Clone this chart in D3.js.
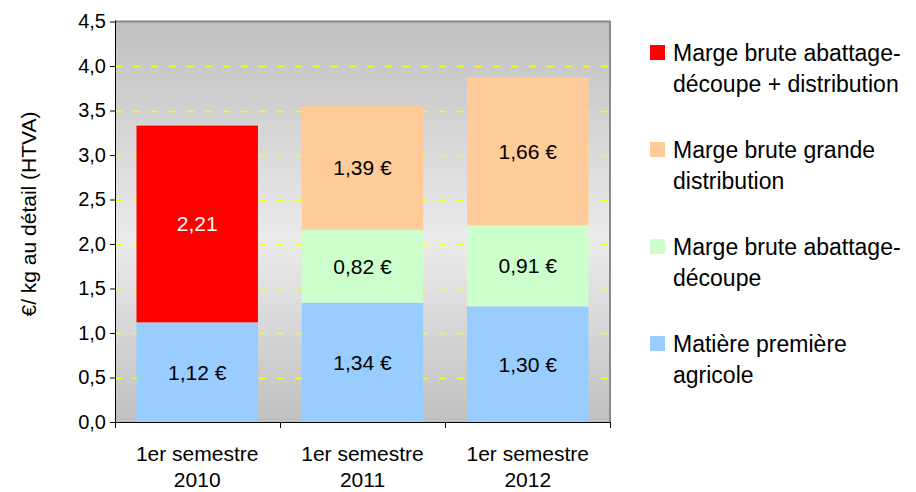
<!DOCTYPE html>
<html><head><meta charset="utf-8">
<script src="https://cdn.jsdelivr.net/npm/d3@7"></script>
<style>
body{margin:0;background:#fff;}
text{font-family:"Liberation Sans",Arial,sans-serif;}
</style></head>
<body><svg id="c" width="916" height="492"></svg>
<script>
const categories = ["1er semestre|2010", "1er semestre|2011", "1er semestre|2012"];
const seriesNames = ["Matière première|agricole", "Marge brute abattage-|découpe", "Marge brute grande|distribution", "Marge brute abattage-|découpe + distribution"];
const seriesColors = ["#99ccff", "#ccffcc", "#ffcc99", "#ff0000"];
const matiere = [1.12, 1.34, 1.30];
const abattage = [0, 0.82, 0.91];
const grandeDist = [0, 1.39, 1.66];
const abattageDist = [2.21, 0, 0];
const labelMatiere = ["1,12 €", "1,34 €", "1,30 €"];
const labelAbattage = ["", "0,82 €", "0,91 €"];
const labelGrande = ["", "1,39 €", "1,66 €"];
const labelAbattageDist = ["2,21", "", ""];
const yTicks = [0, 0.5, 1, 1.5, 2, 2.5, 3, 3.5, 4, 4.5];
const yTitle = "€/ kg au détail (HTVA)";

const svg = d3.select("#c");
const L = 115, R = 610, T = 21.5, B = 422;
const x = d3.scaleBand().domain(categories).range([L, R]).paddingInner(0.265).paddingOuter(0.13);
const y = d3.scaleLinear().domain([0, 4.5]).range([B, T]);

const defs = svg.append("defs");
const g = defs.append("linearGradient").attr("id","bg").attr("x1",0).attr("y1",0).attr("x2",0).attr("y2",1);
g.append("stop").attr("offset","0%").attr("stop-color","#c0c0c0");
g.append("stop").attr("offset","55%").attr("stop-color","#ebebeb");
g.append("stop").attr("offset","100%").attr("stop-color","#c0c0c0");

svg.append("rect").attr("x",L).attr("y",T).attr("width",R-L).attr("height",B-T).attr("fill","url(#bg)");
// grid
svg.append("g").selectAll("line").data(yTicks.filter(d=>d>0 && d<4.5)).join("line")
  .attr("x1",L).attr("x2",R).attr("y1",d=>Math.round(y(d))+0.5).attr("y2",d=>Math.round(y(d))+0.5)
  .attr("stroke","#ffff00").attr("stroke-width",1.5).attr("stroke-dasharray","7,11");
// border top/right
svg.append("path").attr("d",`M${L},${T}H${R}V${B}`).attr("fill","none").attr("stroke","#8a8a8a").attr("stroke-width",2);

const stackData = categories.map((c,i)=>({cat:c, v0:matiere[i], v1:abattage[i], v2:grandeDist[i], v3:abattageDist[i]}));
const stack = d3.stack().keys(["v0","v1","v2","v3"])(stackData);
const labels = [labelMatiere, labelAbattage, labelGrande, labelAbattageDist];
const labelColors = ["#000","#000","#000","#fff"];
stack.forEach((s,k)=>{
  const grp = svg.append("g");
  grp.selectAll("rect").data(s.filter(d=>d[1]-d[0]>0)).join("rect")
    .attr("x",d=>x(d.data.cat)).attr("width",x.bandwidth())
    .attr("y",d=>y(d[1])).attr("height",d=>y(d[0])-y(d[1]))
    .attr("fill",seriesColors[k]);
  grp.selectAll("text").data(s.map((d,i)=>({d,i})).filter(o=>o.d[1]-o.d[0]>0)).join("text")
    .attr("x",o=>x(o.d.data.cat)+x.bandwidth()/2)
    .attr("y",o=>y((o.d[0]+o.d[1])/2)+7.5)
    .attr("text-anchor","middle").attr("font-size",21).attr("fill",labelColors[k])
    .text(o=>labels[k][o.i]);
});

// y axis
const ya = svg.append("g").attr("transform",`translate(${L},0)`)
  .call(d3.axisLeft(y).tickValues(yTicks).tickSize(5).tickPadding(4).tickFormat(d=>d3.format(".1f")(d).replace(".",",")));
ya.select(".domain").remove();
ya.selectAll("line").attr("stroke","#000");
ya.selectAll("text").attr("font-size",20).attr("fill","#000").attr("font-family","Liberation Sans, Arial, sans-serif");
svg.append("line").attr("x1",L+0.5).attr("x2",L+0.5).attr("y1",T-1).attr("y2",B+1).attr("stroke","#000");
// x axis
svg.append("line").attr("x1",L).attr("x2",R+1).attr("y1",B+0.5).attr("y2",B+0.5).attr("stroke","#000");
const bounds = [L, L+(R-L)/3, L+2*(R-L)/3, R];
svg.append("g").selectAll("line").data(bounds).join("line")
  .attr("x1",d=>Math.round(d)+0.5).attr("x2",d=>Math.round(d)+0.5).attr("y1",B).attr("y2",B+6).attr("stroke","#000");
const xl = svg.append("g").selectAll("text").data(categories).join("text")
  .attr("x",d=>x(d)+x.bandwidth()/2).attr("y",461).attr("text-anchor","middle").attr("font-size",21).attr("fill","#000");
xl.each(function(d){
  const parts = d.split("|");
  d3.select(this).selectAll("tspan").data(parts).join("tspan")
    .attr("x",x(d)+x.bandwidth()/2).attr("dy",(p,i)=>i===0?0:26).text(p=>p);
});
// y title
svg.append("text").attr("transform","translate(36,214) rotate(-90)").attr("text-anchor","middle")
  .attr("font-size",21).attr("fill","#000").text(yTitle);

// legend
const legOrder = [3,2,1,0];
const leg = svg.append("g");
legOrder.forEach((k,j)=>{
  const y0 = 45 + j*97;
  leg.append("rect").attr("x",650).attr("y",y0).attr("width",15).attr("height",15).attr("fill",seriesColors[k]);
  const t = leg.append("text").attr("x",673).attr("y",y0+16).attr("font-size",23).attr("fill","#000");
  seriesNames[k].split("|").forEach((p,i)=>{
    t.append("tspan").attr("x",673).attr("dy",i===0?0:31).text(p);
  });
});
</script></body></html>
